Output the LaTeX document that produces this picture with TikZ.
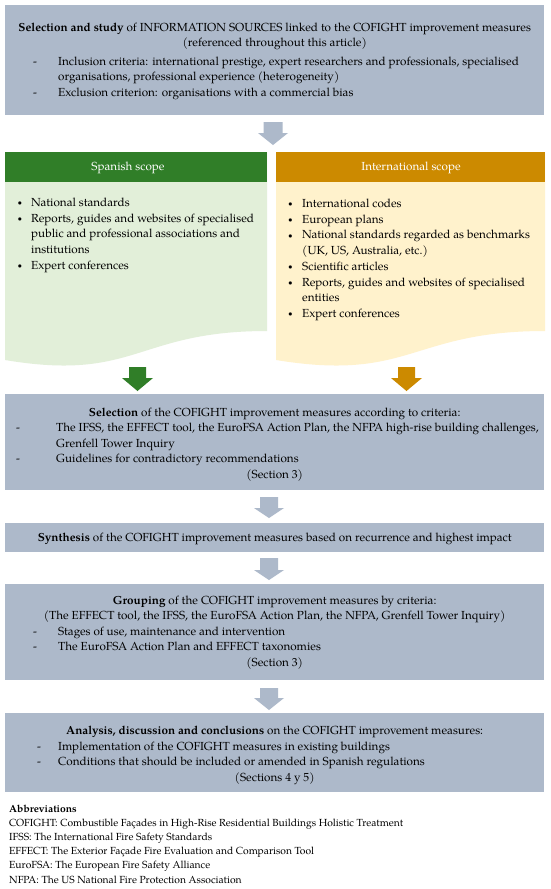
\documentclass[tikz,border=0pt]{standalone}
\usepackage{fontspec}
\setmainfont{texgyrepagella}[Extension=.otf,UprightFont=*-regular,BoldFont=*-bold,ItalicFont=*-italic,BoldItalicFont=*-bolditalic]
\definecolor{boxgray}{RGB}{173,185,202}
\definecolor{sgreen}{RGB}{48,126,40}
\definecolor{sorange}{RGB}{204,138,0}
\definecolor{lgreen}{RGB}{226,239,217}
\definecolor{lorange}{RGB}{255,242,204}
\newcommand\mainfnt[1][15.6]{\fontsize{11.7}{#1}\selectfont}
\newcommand\abbrfnt{\fontsize{10.3}{14.2}\selectfont}
\newcommand\smallbul{\raisebox{0.6pt}{\scalebox{0.7}{\textbullet}}}
\newcommand\dashpar[3]{{\raggedright\leftskip=#2pt\noindent\llap{\makebox[\dimexpr#2pt-#1pt\relax][l]{-}}#3\par}}
\newcommand\bulpar[3]{{\raggedright\leftskip=#2pt\noindent\llap{\makebox[\dimexpr#2pt-#1pt\relax][l]{\smallbul}}#3\par}}
\newcommand\cpar[1]{{\centering\mbox{#1}\par}}
\newcommand\blockarrow[7]{\fill[#7] ({#1-#5},#2) -- ({#1+#5},#2) -- ({#1+#5},#3) -- ({#1+#6},#3) -- (#1,#4) -- ({#1-#6},#3) -- ({#1-#5},#3) -- cycle;}
\begin{document}
\begin{tikzpicture}[x=1pt,y=-1pt,
  graybox/.style={fill=boxgray, draw=none, inner sep=0pt, anchor=north west},
  hdrbox/.style={draw=none, inner sep=0pt, anchor=north west},
  tblock/.style={inner sep=0pt, anchor=base west},
  hdrtext/.style={inner sep=0pt, anchor=base, text=white, font=\mainfnt}]
\useasboundingbox (0,0) rectangle (550,889);
\fill[white] (0,0) rectangle (550,889);
% boxes
\node[graybox, minimum width=539pt, minimum height=110pt] (src) at (5,5) {};
\node[graybox, minimum width=539pt, minimum height=96pt] (sel) at (5,394) {};
\node[graybox, minimum width=539pt, minimum height=29pt] (syn) at (5,523) {};
\node[graybox, minimum width=539pt, minimum height=96pt] (grp) at (5,584) {};
\node[graybox, minimum width=539pt, minimum height=79pt] (ana) at (5,713) {};
% scope bodies (document shapes)
\fill[lgreen] (5,152) -- (267,152) -- (267,331) .. controls (136,331) and (136,382) .. (5,360) -- cycle;
\fill[lorange] (276,152) -- (545,152) -- (545,331) .. controls (410.5,331) and (410.5,382) .. (276,360) -- cycle;
\node[hdrbox, fill=sgreen, minimum width=262pt, minimum height=30pt] (esh) at (5,152) {};
\node[hdrbox, fill=sorange, minimum width=269pt, minimum height=30pt] (inh) at (276,152) {};
\node[hdrtext] (esht) at (128,170) {Spanish scope};
\node[hdrtext] (inht) at (411,170) {International scope};
% arrows
\blockarrow{273}{122}{133}{145}{9.5}{15}{boxgray}
\blockarrow{137.5}{367}{378}{391}{8.5}{15.5}{sgreen}
\blockarrow{406.5}{367}{378}{391}{8.5}{15.5}{sorange}
\blockarrow{269}{497}{508}{518}{9}{15}{boxgray}
\blockarrow{269}{558}{570}{580}{9}{15}{boxgray}
\blockarrow{269}{688}{698}{710}{9}{15}{boxgray}
% texts
\node[tblock] (srct) at (5,31.5) {\vtop{\hsize=539pt\mainfnt[15.2]\parindent=0pt\parskip=0pt
 \cpar{\textbf{Selection and study} of INFORMATION SOURCES linked to the COFIGHT improvement measures}
 \cpar{(referenced throughout this article)}
 \vspace{3.8pt}
 \dashpar{28}{53}{\mbox{Inclusion criteria: international prestige, expert researchers and professionals, specialised}\\organisations, professional experience (heterogeneity)}
 \dashpar{28}{53}{Exclusion criterion: organisations with a commercial bias}}};
\node[tblock] (gbt) at (5,206.5) {\vtop{\hsize=262pt\mainfnt[15.7]\parindent=0pt\parskip=0pt
 \bulpar{12.5}{26}{National standards}
 \bulpar{12.5}{26}{Reports, guides and websites of specialised\\public and professional associations and\\institutions}
 \bulpar{12.5}{26}{Expert conferences}}};
\node[tblock] (obt) at (276,207.5) {\vtop{\hsize=269pt\mainfnt[15.7]\parindent=0pt\parskip=0pt
 \bulpar{12}{26}{International codes}
 \bulpar{12}{26}{European plans}
 \bulpar{12}{26}{National standards regarded as benchmarks\\(UK, US, Australia, etc.)}
 \bulpar{12}{26}{Scientific articles}
 \bulpar{12}{26}{Reports, guides and websites of specialised\\entities}
 \bulpar{12}{26}{Expert conferences}}};
\node[tblock] (selt) at (5,416) {\vtop{\hsize=539pt\mainfnt\parindent=0pt\parskip=0pt
 \cpar{\textbf{Selection} of the COFIGHT improvement measures according to criteria:}
 \dashpar{11}{51}{\mbox{The IFSS, the EFFECT tool, the EuroFSA Action Plan, the NFPA high-rise building challenges,}\\Grenfell Tower Inquiry}
 \dashpar{11}{51}{Guidelines for contradictory recommendations}
 \cpar{(Section 3)}}};
\node[tblock] (synt) at (5,541) {\vtop{\hsize=539pt\mainfnt\parindent=0pt\parskip=0pt
 \cpar{\textbf{Synthesis} of the COFIGHT improvement measures based on recurrence and highest impact}}};
\node[tblock] (grpt) at (5,604) {\vtop{\hsize=539pt\mainfnt\parindent=0pt\parskip=0pt
 \cpar{\textbf{Grouping} of the COFIGHT improvement measures by criteria:}
 \cpar{(The EFFECT tool, the IFSS, the EuroFSA Action Plan, the NFPA, Grenfell Tower Inquiry)}
 \dashpar{28}{53}{Stages of use, maintenance and intervention}
 \dashpar{28}{53}{The EuroFSA Action Plan and EFFECT taxonomies}
 \cpar{(Section 3)}}};
\node[tblock] (anat) at (5,734.5) {\vtop{\hsize=539pt\mainfnt\parindent=0pt\parskip=0pt
 \cpar{\textbf{Analysis, discussion and conclusions} on the COFIGHT improvement measures:}
 \dashpar{32}{53}{Implementation of the COFIGHT measures in existing buildings}
 \dashpar{32}{53}{Conditions that should be included or amended in Spanish regulations}
 \cpar{(Sections 4 y 5)}}};
\node[tblock] (abbr) at (9,812) {\vtop{\hsize=530pt\abbrfnt\parindent=0pt\parskip=0pt\raggedright
 \textbf{Abbreviations}\\
 COFIGHT: Combustible Façades in High-Rise Residential Buildings Holistic Treatment\\
 IFSS: The International Fire Safety Standards\\
 EFFECT: The Exterior Façade Fire Evaluation and Comparison Tool\\
 EuroFSA: The European Fire Safety Alliance\\
 NFPA: The US National Fire Protection Association\par}};
\end{tikzpicture}
\end{document}
